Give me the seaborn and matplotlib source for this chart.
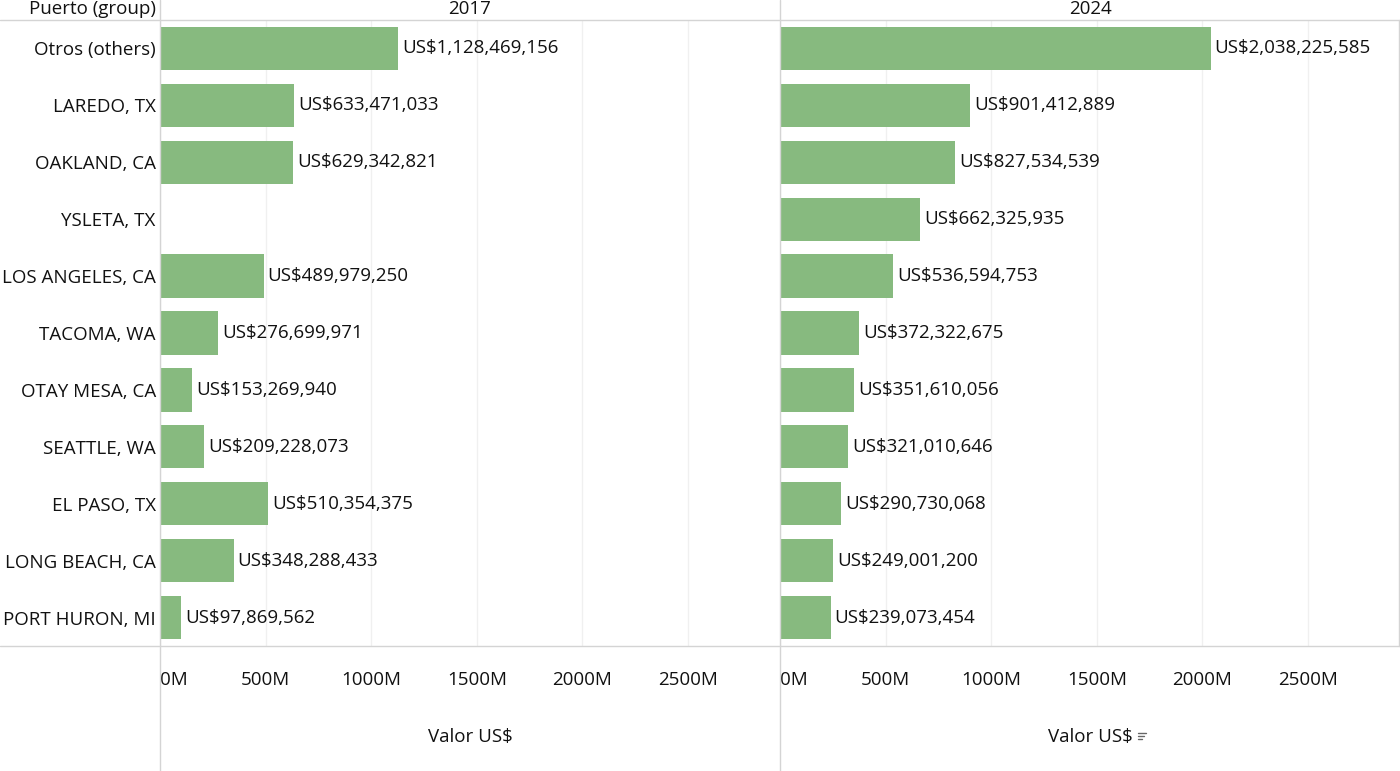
"""Import value by port of entry, 2017 vs 2024"""

import numpy as np
import pandas as pd
import seaborn as sns
import matplotlib.pyplot as plt
from matplotlib.lines import Line2D
from matplotlib.ticker import FuncFormatter

ports = [
    "Otros (others)",
    "LAREDO, TX",
    "OAKLAND, CA",
    "YSLETA, TX",
    "LOS ANGELES, CA",
    "TACOMA, WA",
    "OTAY MESA, CA",
    "SEATTLE, WA",
    "EL PASO, TX",
    "LONG BEACH, CA",
    "PORT HURON, MI",
]
valor_2017 = [
    1128469156, 633471033, 629342821, np.nan, 489979250, 276699971,
    153269940, 209228073, 510354375, 348288433, 97869562,
]
valor_2024 = [
    2038225585, 901412889, 827534539, 662325935, 536594753, 372322675,
    351610056, 321010646, 290730068, 249001200, 239073454,
]
years = ["2017", "2024"]
x_ticks = [0, 500e6, 1000e6, 1500e6, 2000e6, 2500e6]

BAR_COLOR = "#87ba7f"
LINE_COLOR = "#d4d4d4"
FS = 13.5
W, H = 1400, 771

sns.set_theme(style="white")
plt.rcParams["font.family"] = ["Open Sans", "DejaVu Sans"]
plt.rcParams["text.color"] = "#111111"
plt.rcParams["xtick.color"] = "#111111"
plt.rcParams["ytick.color"] = "#111111"

fig = plt.figure(figsize=(W / 100, H / 100), dpi=100)


def fx(px):
    return px / W


def fy(py):
    return 1 - py / H


panels = [(160, 780), (780, 1400)]
for k, (year, vals, (x0, x1)) in enumerate(zip(years, [valor_2017, valor_2024], panels)):
    ax = fig.add_axes([fx(x0), fy(646), fx(x1 - x0), fy(20) - fy(646)])
    df = pd.DataFrame({"Puerto": ports, "Valor": vals}).dropna()
    sns.barplot(
        data=df, x="Valor", y="Puerto", order=ports, color=BAR_COLOR,
        width=0.76, saturation=1, linewidth=0, ax=ax,
    )
    ax.set_xlim(0, 2935e6)
    ax.set_xticks(x_ticks)
    ax.xaxis.set_major_formatter(FuncFormatter(lambda v, p: f"{v / 1e6:.0f}M"))
    ax.grid(axis="x", color="#f0f0f0", linewidth=1)
    ax.set_axisbelow(True)
    ax.tick_params(axis="x", length=0, pad=18, labelsize=FS)
    ax.tick_params(axis="y", length=0, pad=3, labelsize=FS)
    ax.get_xticklabels()[0].set_horizontalalignment("left")
    ax.set_xlabel("")
    ax.set_ylabel("")
    if k > 0:
        ax.set_yticklabels([])
    for s in ax.spines.values():
        s.set_visible(False)
    # value labels next to each bar
    for i, v in enumerate(vals):
        if np.isnan(v):
            continue
        ax.annotate(
            f"US${v:,.0f}", (v, i), xytext=(3, 0), textcoords="offset points",
            ha="left", va="center", fontsize=FS,
        )
    fig.text(fx((x0 + x1) / 2), fy(9), year, ha="center", va="center", fontsize=FS)
    fig.text(fx((x0 + x1) / 2), fy(737), "Valor US$", ha="center", va="center", fontsize=FS)

fig.text(fx(156), fy(9), "Puerto (group)", ha="right", va="center", fontsize=FS)

# table-like separators
for y in (20, 646):
    fig.add_artist(Line2D([0, 1], [fy(y), fy(y)], color=LINE_COLOR, lw=1))
for x in (160, 780):
    fig.add_artist(Line2D([fx(x), fx(x)], [0, 1], color=LINE_COLOR, lw=1))
fig.add_artist(Line2D([fx(1399), fx(1399)], [fy(646), fy(20)], color=LINE_COLOR, lw=1))

# little sort icon after the second axis title
for j, ln in enumerate([8, 6, 4]):
    yy = fy(733 + j * 3)
    fig.add_artist(Line2D([fx(1138), fx(1138 + ln)], [yy, yy], color="#666666", lw=1))

fig.savefig("out.png", dpi=100, facecolor="white")
